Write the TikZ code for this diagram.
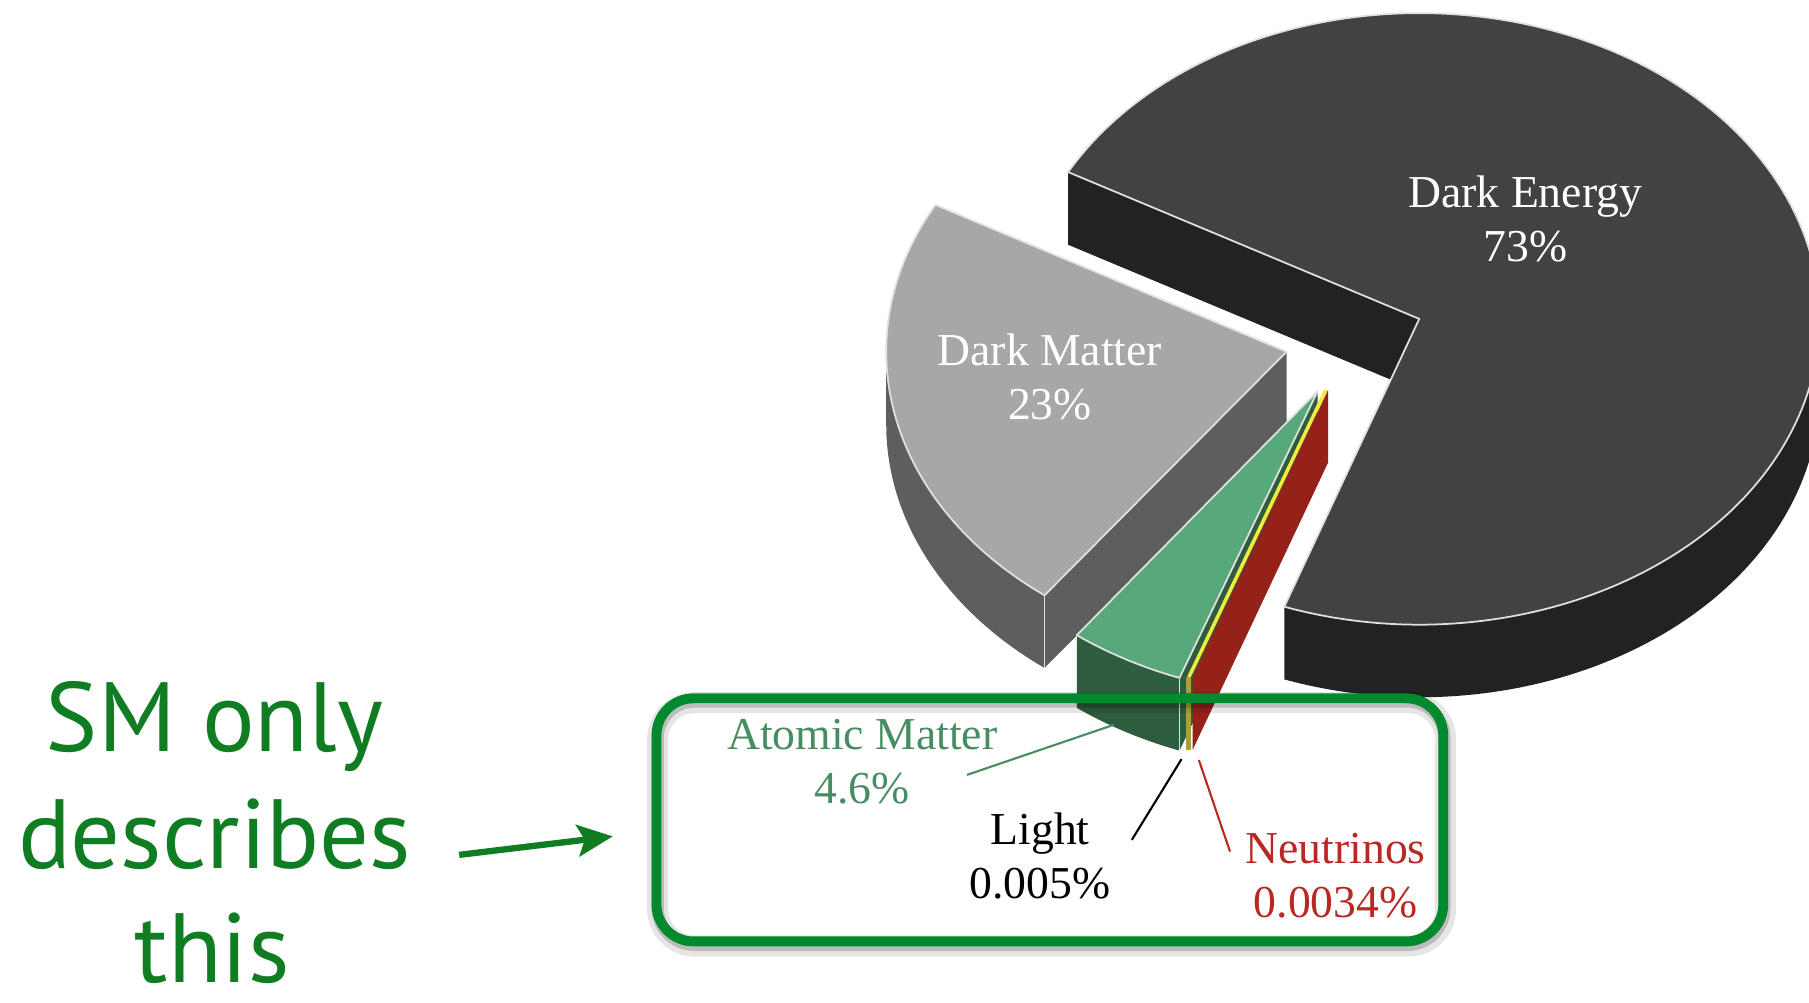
\documentclass[tikz,border=0pt]{standalone}
\usepackage{fontspec}
\setmainfont{Liberation Serif}
\newfontfamily\smfont{PT Sans}
\usetikzlibrary{calc,arrows.meta}
\definecolor{detop}{HTML}{424242}
\definecolor{deside}{HTML}{222222}
\definecolor{dmtop}{HTML}{A6A7A6}
\definecolor{dmside}{HTML}{5E5E5E}
\definecolor{attop}{HTML}{57A87A}
\definecolor{atside}{HTML}{2E5C3F}
\definecolor{ltyellow}{HTML}{F2EA3C}
\definecolor{ltolive}{HTML}{A8A03E}
\definecolor{nured}{HTML}{942219}
\definecolor{boxgreen}{RGB}{0,137,45}
\definecolor{smgreen}{RGB}{17,125,35}
\definecolor{atlabel}{RGB}{72,140,98}
\definecolor{nulabel}{RGB}{185,40,35}
\begin{document}
\begin{tikzpicture}[scale=1.1537,
  every node/.style={inner sep=0pt, outer sep=0pt},
  topface/.style={draw=white!88!black, line width=0.5pt, line join=round},
  edgeline/.style={draw=white!88!black, line width=0.5pt},
  pielabel/.style={font=\fontsize{13}{15}\selectfont, anchor=base},
  smtext/.style={font=\smfont\fontsize{28}{34}\selectfont, text=smgreen, anchor=base},
  leader/.style={line width=0.6pt}]
\path[use as bounding box] (0,0) rectangle (15.68,8.69);
\clip (0,0) rectangle (15.68,8.69);

% apices of the exploded slices
\coordinate (DEc) at (12.30,5.925);
\coordinate (DMc) at (11.15,5.64);
\coordinate (ATc) at (11.42,5.30);
\coordinate (LTc) at (11.49,5.31);
\coordinate (NUc) at (11.51,5.31);

% ---- Dark Energy ----
\fill[deside] (DEc) -- ++(151.3:3.47 and 2.65) -- ++(0,-0.63) -- ($(DEc)+(0,-0.63)$) -- cycle;
\fill[deside] (DEc) ++(250.3:3.47 and 2.65) arc[start angle=250.3,end angle=360,x radius=3.47,y radius=2.65]
  -- ++(0,-0.63) arc[start angle=360,end angle=250.3,x radius=3.47,y radius=2.65] -- cycle;
\path[topface, fill=detop] (DEc) -- ++(250.3:3.47 and 2.65)
  arc[start angle=250.3,end angle=511.3,x radius=3.47,y radius=2.65] -- cycle;

% ---- Dark Matter ----
\fill[dmside] (DMc) ++(180:3.47 and 2.65) arc[start angle=180,end angle=232.8,x radius=3.47,y radius=2.65]
  -- ++(0,-0.63) arc[start angle=232.8,end angle=180,x radius=3.47,y radius=2.65] -- cycle;
\fill[dmside] (DMc) -- ++(232.8:3.47 and 2.65) -- ++(0,-0.63) -- ($(DMc)+(0,-0.63)$) -- cycle;
\draw[edgeline] (DMc) ++(232.8:3.47 and 2.65) -- ++(0,-0.63);
\path[topface, fill=dmtop] (DMc) -- ++(151.3:3.47 and 2.65)
  arc[start angle=151.3,end angle=232.8,x radius=3.47,y radius=2.65] -- cycle;

% ---- Atomic Matter ----
\fill[atside] (ATc) -- ++(249.8:3.47 and 2.65) -- ++(0,-0.63) -- ($(ATc)+(0,-0.63)$) -- cycle;
\fill[atside] (ATc) ++(233:3.47 and 2.65) arc[start angle=233,end angle=249.8,x radius=3.47,y radius=2.65]
  -- ++(0,-0.63) arc[start angle=249.8,end angle=233,x radius=3.47,y radius=2.65] -- cycle;
\draw[edgeline] (ATc) ++(249.8:3.47 and 2.65) -- ++(0,-0.63);
\path[topface, fill=attop] (ATc) -- ++(233:3.47 and 2.65)
  arc[start angle=233,end angle=249.8,x radius=3.47,y radius=2.65] -- cycle;

% ---- Neutrinos and Light ----
\fill[nured] (NUc) -- ++(250.2:3.47 and 2.65) -- ++(0,-0.63) -- ($(NUc)+(0,-0.63)$) -- cycle;
\draw[ltyellow, line width=1pt] (LTc) -- ++(250:3.47 and 2.65);
\draw[ltolive, line width=1.4pt] (LTc) ++(250:3.47 and 2.65) -- ++(0,-0.63);

% ---- slice labels ----
\node[pielabel, text=white] (de1) at (13.22,6.89) {Dark Energy};
\node[pielabel, text=white] (de2) at (13.22,6.42) {73\%};
\node[pielabel, text=white] (dm1) at (9.10,5.526) {Dark Matter};
\node[pielabel, text=white] (dm2) at (9.10,5.05) {23\%};
\node[pielabel, text=atlabel] (at1) at (7.474,2.195) {Atomic Matter};
\node[pielabel, text=atlabel] (at2) at (7.474,1.727) {4.6\%};
\node[pielabel, text=black] (lt1) at (9.015,1.366) {Light};
\node[pielabel, text=black] (lt2) at (9.015,0.904) {0.005\%};
\node[pielabel, text=nulabel] (nu1) at (11.577,1.207) {Neutrinos};
\node[pielabel, text=nulabel] (nu2) at (11.577,0.74) {0.0034\%};

% ---- leader lines ----
\coordinate (atA) at (8.38,1.973);
\coordinate (atB) at (9.65,2.406);
\coordinate (ltA) at (9.809,1.41);
\coordinate (ltB) at (10.24,2.11);
\coordinate (nuA) at (10.66,1.308);
\coordinate (nuB) at (10.39,2.102);
\draw[leader, atlabel] (atA) -- (atB);
\draw[leader, black] (ltA) -- (ltB);
\draw[leader, nulabel] (nuA) -- (nuB);

% ---- green frame with shadow ----
\draw[black, opacity=0.10, line width=6pt, rounded corners=0.37cm] (5.70,0.49) rectangle (12.53,2.60);
\draw[black, opacity=0.18, line width=3.5pt, rounded corners=0.37cm] (5.70,0.50) rectangle (12.52,2.61);
\draw[boxgreen, line width=2.8pt, rounded corners=0.37cm] (5.69,0.53) rectangle (12.51,2.637);

% ---- left text and arrow ----
\node[smtext] (sm1) at (1.86,2.18) {SM only};
\node[smtext] (sm2) at (1.86,1.16) {describes};
\node[smtext] (sm3) at (1.84,0.17) {this};
\coordinate (arS) at (3.98,1.28);
\coordinate (arE) at (5.31,1.44);
\draw[smgreen, line width=1.8pt, -{Stealth[length=10pt,width=9pt,inset=2pt]}] (arS) -- (arE);
\end{tikzpicture}
\end{document}
